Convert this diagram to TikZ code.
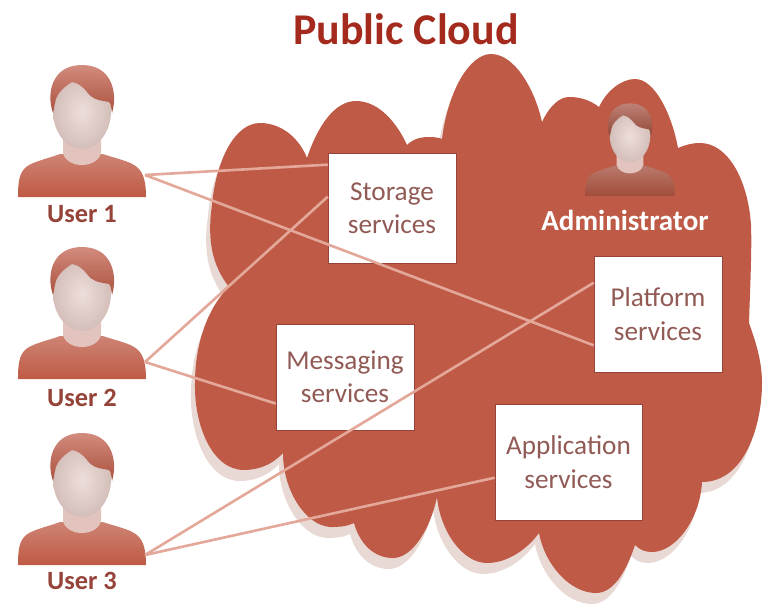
\documentclass[tikz,border=0pt]{standalone}
\usepackage{fontspec}
\usepackage{xcolor}
\usepackage{tikz}
\setmainfont{Carlito}
\usetikzlibrary{shapes,arrows,positioning,calc}

\definecolor{cloudred}{HTML}{BE5A45}
\definecolor{cloudrim}{HTML}{E9D9D5}
\definecolor{titlered}{HTML}{A32A1C}
\definecolor{linkpink}{HTML}{E3A899}
\definecolor{boxtext}{HTML}{915A55}
\definecolor{userred}{HTML}{96433A}
\definecolor{skin}{HTML}{E6CFCA}

\newcommand{\cloudoutline}{
    (229,287) .. controls (212,265) and (207,240) .. (212,205)
    .. controls (216,160) and (235,123) .. (260,123) .. controls (283,123) and (300,140) .. (307,158)
    .. controls (318,125) and (335,101) .. (356,101) .. controls (380,101) and (398,125) .. (407,145)
    .. controls (414,138) and (422,137) .. (430,137) .. controls (435,137) and (440,138) .. (442,139)
    .. controls (448,90) and (470,54) .. (491,54) .. controls (515,54) and (535,90) .. (542,122)
    .. controls (550,105) and (560,97) .. (569,97) .. controls (580,97) and (590,100) .. (599,107)
    .. controls (607,90) and (622,79) .. (635,79) .. controls (655,79) and (672,115) .. (678,148)
    .. controls (685,145) and (692,143) .. (700,143) .. controls (728,143) and (748,180) .. (751,225)
    .. controls (752,250) and (750,290) .. (749,323)
    .. controls (755,340) and (762,360) .. (762,383) .. controls (762,425) and (745,482) .. (702,482)
    .. controls (700,520) and (675,552) .. (652,552) .. controls (645,552) and (640,550) .. (635,545)
    .. controls (625,575) and (612,593) .. (596,593) .. controls (570,593) and (545,565) .. (539,533)
    .. controls (525,552) and (505,563) .. (487,563) .. controls (462,563) and (440,530) .. (437,497)
    .. controls (430,530) and (412,558) .. (393,558) .. controls (375,558) and (360,545) .. (354,523)
    .. controls (345,527) and (338,527) .. (330,527) .. controls (305,525) and (283,490) .. (283,453)
    .. controls (272,465) and (258,470) .. (244,470) .. controls (212,470) and (194,425) .. (195,383)
    .. controls (195,340) and (210,305) .. (229,287) -- cycle
}

\tikzset{
    servicebox/.style={fill=white, draw=userred, line width=0.3pt, align=center, text=boxtext,
        font=\fontsize{15.5}{19}\selectfont, inner sep=0pt},
    userlabel/.style={text=userred, font=\fontsize{15}{18}\selectfont\bfseries},
    link/.style={linkpink, line width=1.5pt},
    person/.pic={
        % body
        \path[top color=#1!75!white, bottom color=#1] (-64,84) .. controls (-64,70) and (-63,60) .. (-56,54)
            .. controls (-48,48) and (-32,45) .. (-22,41) -- (21,41)
            .. controls (32,45) and (48,48) .. (55,54) .. controls (62,60) and (64,70) .. (64,84) -- cycle;
        % neck and face
        \fill[skin!90!cloudred] (-19,25) -- (-19,40) .. controls (-15,56) and (15,56) .. (19,40) -- (19,25) -- cycle;
        \path[inner color=skin!70!white, outer color=skin!92!black]
            (-29,-2) .. controls (-29,20) and (-15,36) .. (0,36) .. controls (15,36) and (29,20) .. (29,-2)
            .. controls (29,-25) and (15,-38) .. (0,-38) .. controls (-15,-38) and (-29,-25) .. (-29,-2) -- cycle;
        % hair
        \path[top color=#1!70!white, bottom color=#1!90!black] (-29,0) .. controls (-36,-20) and (-30,-48) .. (0,-48)
            .. controls (30,-48) and (36,-20) .. (30,0) .. controls (29,-6) and (29,-9) .. (27,-11)
            .. controls (15,-13) and (10,-14) .. (5,-21) .. controls (0,-27) and (-4,-30) .. (-10,-31)
            .. controls (-20,-25) and (-26,-18) .. (-27,-10) .. controls (-28,-6) and (-28,-3) .. (-29,0) -- cycle;
    }
}

\begin{document}
\begin{tikzpicture}[x=0.02cm, y=-0.02cm]
    \useasboundingbox (0,0) rectangle (763,605);

    % Cloud
    \fill[cloudrim, shift={(-4,11)}] \cloudoutline;
    \fill[cloudred] \cloudoutline;

    \node[text=titlered, font=\fontsize{25}{30}\selectfont\bfseries] (title) at (406,29) {Public Cloud};

    % Users
    \pic at (82,113) {person=cloudred};
    \pic at (82,295) {person=cloudred};
    \pic at (82,481) {person=cloudred};
    \node[userlabel] (user1) at (82,214) {User 1};
    \node[userlabel] (user2) at (82,398) {User 2};
    \node[userlabel] (user3) at (82,581) {User 3};
    \coordinate (port1) at (145,175);
    \coordinate (port2) at (145,362);
    \coordinate (port3) at (145,555);

    % Administrator
    \pic[scale=0.7] at (630,137) {person=cloudred!85!black};
    \node[text=white, font=\fontsize{16.5}{20}\selectfont\bfseries] (admin) at (625,220) {Administrator};

    % Services
    \node[servicebox, minimum width=2.56cm, minimum height=2.2cm] (storage) at (392,208) {Storage\\services};
    \node[servicebox, minimum width=2.56cm, minimum height=2.32cm] (platform) at (658,314) {Platform\\services};
    \node[servicebox, minimum width=2.76cm, minimum height=2.12cm] (messaging) at (345,377) {Messaging\\services};
    \node[servicebox, minimum width=2.94cm, minimum height=2.32cm] (application) at (568.5,462) {Application\\services};

    % Links
    \draw[link] (port1) -- (storage.146);
    \draw[link] (port1) -- (platform.206);
    \draw[link] (port2) -- (storage.170);
    \draw[link] (port2) -- (messaging.201);
    \draw[link] (port3) -- (platform.154);
    \draw[link] (port3) -- (application.192);
\end{tikzpicture}
\end{document}
